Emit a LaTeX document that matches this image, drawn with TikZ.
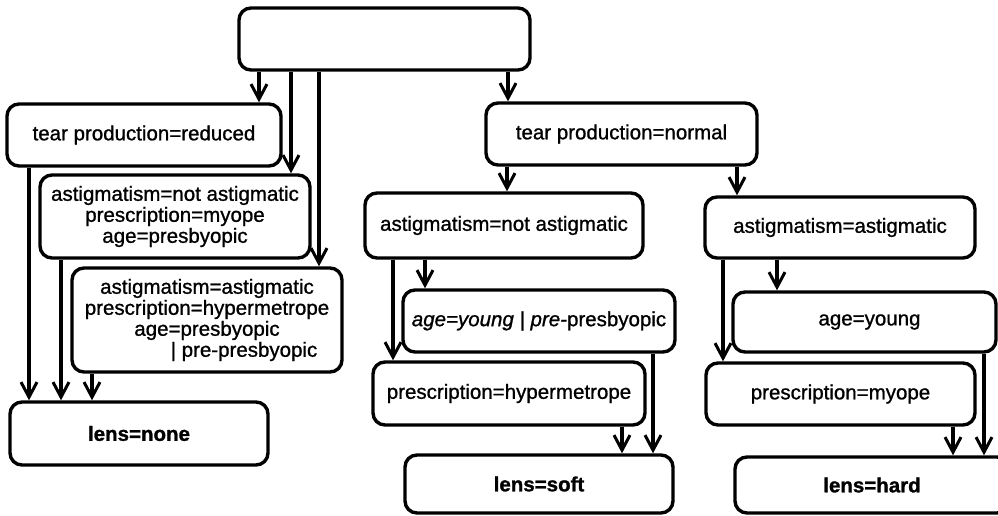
\documentclass[tikz,border=0pt]{standalone}
\usepackage{fontspec}
\setmainfont{Liberation Sans}[FakeBold=1.2]
\newfontfamily\medfont{Liberation Sans}[FakeBold=1.0]
\usetikzlibrary{arrows.meta}
\begin{document}
\begin{tikzpicture}[x=1pt,y=-1pt,
  box/.style={draw=black, line width=3.4pt, rounded corners=12pt, inner sep=0pt,
    align=center, font=\medfont\fontsize{20.5}{21}\selectfont},
  lens/.style={box, font=\fontsize{20.5}{21}\selectfont\bfseries},
  arr/.style={line width=3.4pt, -{Straight Barb[length=15pt,width=16pt,line width=3pt]}}]
\useasboundingbox (0,0) rectangle (998,516);
\fill[white] (0,0) rectangle (998,516);
\clip (0,0) rectangle (998,516);
% boxes
\node[box, minimum width=291pt, minimum height=62pt] (root) at (384.5,39) {};
\node[box, minimum width=274pt, minimum height=62pt] (tr) at (144,135) {tear production=reduced};
\node[box, minimum width=270pt, minimum height=83pt] (b2) at (175,216.5) {astigmatism=not astigmatic\\prescription=myope\\age=presbyopic};
\node[box, minimum width=270pt, minimum height=104pt] (b3) at (207,320) {astigmatism=astigmatic\\prescription=hypermetrope\\age=presbyopic\\\hspace*{74pt}| pre-presbyopic};
\node[lens, minimum width=258pt, minimum height=63pt] (none) at (139,433.5) {lens=none};
\node[box, minimum width=271pt, minimum height=62pt] (tn) at (621.5,134) {tear production=normal};
\node[box, minimum width=278pt, minimum height=65pt] (an) at (504,225.5) {astigmatism=not astigmatic};
\node[box, minimum width=272pt, minimum height=62pt] (ay) at (539,321) {\itshape age=young | pre-\upshape presbyopic};
\node[box, minimum width=272pt, minimum height=63pt] (ph) at (509,393.5) {prescription=hypermetrope};
\node[lens, minimum width=268pt, minimum height=58pt] (soft) at (539,484) {lens=soft};
\node[box, minimum width=270pt, minimum height=61pt] (as) at (840,227.5) {astigmatism=astigmatic};
\node[box, minimum width=263pt, minimum height=60pt] (ag) at (864.5,322) {\hspace*{10pt}age=young};
\node[box, minimum width=269pt, minimum height=62pt] (pm) at (840.5,394) {prescription=myope};
\node[lens, minimum width=274pt, minimum height=56pt] (hard) at (872,485) {lens=hard};
% x positions of connectors
\coordinate (xa) at (259,0);
\coordinate (xb) at (291,0);
\coordinate (xc) at (319,0);
\coordinate (xd) at (508,0);
\coordinate (xe) at (29,0);
\coordinate (xf) at (61,0);
\coordinate (xg) at (92,0);
\coordinate (xh) at (507,0);
\coordinate (xi) at (737,0);
\coordinate (xj) at (425,0);
\coordinate (xk) at (393,0);
\coordinate (xl) at (653,0);
\coordinate (xm) at (622,0);
\coordinate (xn) at (777,0);
\coordinate (xo) at (723,0);
\coordinate (xp) at (984,0);
\coordinate (xq) at (953,0);
% connectors
\draw[arr] (root.south -| xa) -- (tr.north -| xa);
\draw[arr] (root.south -| xb) -- (b2.north -| xb);
\draw[arr] (root.south -| xc) -- (b3.north -| xc);
\draw[arr] (root.south -| xd) -- (tn.north -| xd);
\draw[arr] (tr.south -| xe) -- (none.north -| xe);
\draw[arr] (b2.south -| xf) -- (none.north -| xf);
\draw[arr] (b3.south -| xg) -- (none.north -| xg);
\draw[arr] (tn.south -| xh) -- (an.north -| xh);
\draw[arr] (tn.south -| xi) -- (as.north -| xi);
\draw[arr] (an.south -| xj) -- (ay.north -| xj);
\draw[arr] (an.south -| xk) -- (ph.north -| xk);
\draw[arr] (ay.south -| xl) -- (soft.north -| xl);
\draw[arr] (ph.south -| xm) -- (soft.north -| xm);
\draw[arr] (as.south -| xn) -- (ag.north -| xn);
\draw[arr] (as.south -| xo) -- (pm.north -| xo);
\draw[arr] (ag.south -| xp) -- (hard.north -| xp);
\draw[arr] (pm.south -| xq) -- (hard.north -| xq);
\end{tikzpicture}
\end{document}
